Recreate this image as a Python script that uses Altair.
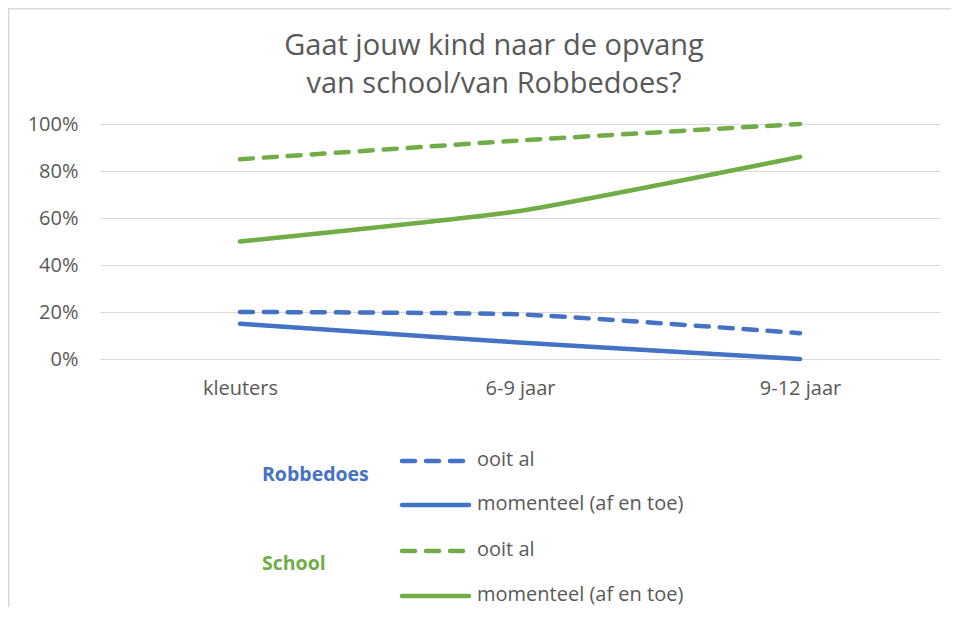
import altair as alt
import pandas as pd

# ---- data ----
categories = ["kleuters", "6-9 jaar", "9-12 jaar"]
robbedoes_ooit = [0.20, 0.19, 0.11]
robbedoes_momenteel = [0.15, 0.07, 0.00]
school_ooit = [0.85, 0.93, 1.00]
school_momenteel = [0.50, 0.63, 0.86]

groups = ["Robbedoes", "School"]
types = ["ooit al", "momenteel (af en toe)"]
title_lines = ["Gaat jouw kind naar de opvang", "van school/van Robbedoes?"]
y_ticks = [0, 0.2, 0.4, 0.6, 0.8, 1.0]

BLUE = "#4472C4"
GREEN = "#70AD47"
GREY = "#595959"
GRID = "#D9D9D9"
FONT = "Open Sans"

rows = []
for g, t, vals in [
    ("Robbedoes", "ooit al", robbedoes_ooit),
    ("Robbedoes", "momenteel (af en toe)", robbedoes_momenteel),
    ("School", "ooit al", school_ooit),
    ("School", "momenteel (af en toe)", school_momenteel),
]:
    for c, v in zip(categories, vals):
        rows.append({"leeftijd": c, "groep": g, "type": t, "waarde": v, "serie": g + " " + t})
df = pd.DataFrame(rows)

W, H = 840, 235

lines = alt.Chart(df).mark_line(strokeWidth=4.5, strokeCap="round", interpolate="cardinal", tension=0.5).encode(
    x=alt.X("leeftijd:N", sort=categories, title=None,
            scale=alt.Scale(type="point", padding=0.5),
            axis=alt.Axis(labelAngle=0, domain=False, ticks=False, grid=False,
                          labelFontSize=20, labelColor=GREY, labelFont=FONT, labelPadding=19)),
    y=alt.Y("waarde:Q", title=None, scale=alt.Scale(domain=[0, 1], nice=False),
            axis=alt.Axis(values=y_ticks, format=".0%", domain=False, ticks=False,
                          gridColor=GRID, gridWidth=1.2, labelFontSize=20, labelColor=GREY,
                          labelFont=FONT, labelPadding=22)),
    color=alt.Color("groep:N", scale=alt.Scale(domain=groups, range=[BLUE, GREEN]), legend=None),
    strokeDash=alt.StrokeDash("type:N", scale=alt.Scale(domain=types, range=[[13, 11], [1, 0]]), legend=None),
    detail="serie:N",
)

layers = [lines]

# title
for i, line in enumerate(title_lines):
    layers.append(
        alt.Chart(pd.DataFrame({"t": [line]})).mark_text(
            fontSize=29, font=FONT, color=GREY, align="center", baseline="middle"
        ).encode(text="t:N", x=alt.value(394), y=alt.value(-78 + 38 * i))
    )

# custom legend
legend_rows = [
    ("ooit al", BLUE, [13, 11], 337),
    ("momenteel (af en toe)", BLUE, [1, 0], 381),
    ("ooit al", GREEN, [13, 11], 427),
    ("momenteel (af en toe)", GREEN, [1, 0], 472),
]
for label, col, dash, yy in legend_rows:
    layers.append(
        alt.Chart(pd.DataFrame({"t": [label]})).mark_rule(
            color=col, strokeWidth=4.5, strokeCap="round", strokeDash=dash
        ).encode(x=alt.value(302), x2=alt.value(369), y=alt.value(yy))
    )
    layers.append(
        alt.Chart(pd.DataFrame({"t": [label]})).mark_text(
            fontSize=20, font=FONT, color=GREY, align="left", baseline="middle"
        ).encode(text="t:N", x=alt.value(377), y=alt.value(yy - 1))
    )

for g, col, yy in [("Robbedoes", BLUE, 351), ("School", GREEN, 440)]:
    layers.append(
        alt.Chart(pd.DataFrame({"t": [g]})).mark_text(
            fontSize=19.5, font=FONT, fontWeight="bold", color=col, align="left", baseline="middle"
        ).encode(text="t:N", x=alt.value(162), y=alt.value(yy))
    )

# chart frame (left and top border)
layers.append(
    alt.Chart(pd.DataFrame({"t": [0]})).mark_rule(color=GRID, strokeWidth=1.5).encode(
        x=alt.value(-91.3), y=alt.value(-116), y2=alt.value(500))
)
layers.append(
    alt.Chart(pd.DataFrame({"t": [0]})).mark_rule(color=GRID, strokeWidth=1.5).encode(
        x=alt.value(-92), x2=alt.value(860), y=alt.value(-115.3))
)

chart = alt.layer(*layers).properties(
    width=W, height=H,
    background="white",
    autosize=alt.AutoSizeParams(type="none"),
    padding={"left": 92, "top": 116, "right": 11, "bottom": 248},
).configure_view(stroke=None)

chart.save("out.html", embed_options={"renderer": "svg", "actions": False})
